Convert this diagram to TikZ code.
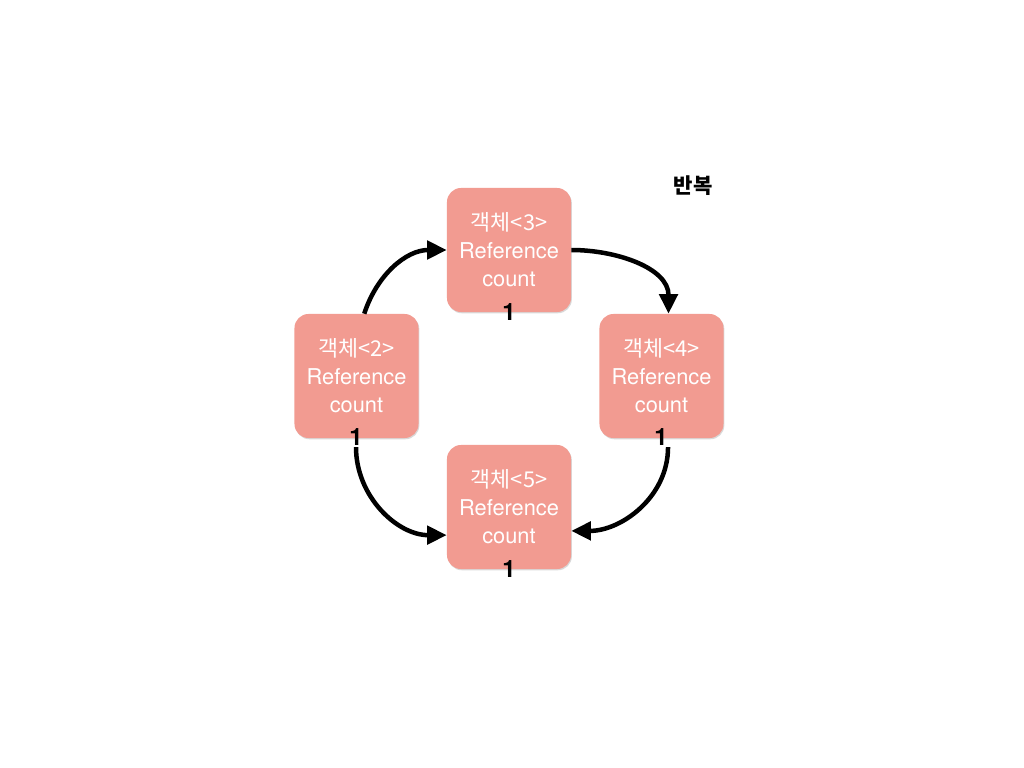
\documentclass[tikz,border=0pt]{standalone}
\usepackage{fontspec}
\setmainfont{TeX Gyre Heros}
\newfontfamily\kr{Noto Sans CJK KR}
\usetikzlibrary{arrows.meta,shadows}
\definecolor{boxred}{HTML}{F29B91}
\tikzset{
  obj/.style={fill=boxred,rounded corners=10pt,minimum width=3.1cm,minimum height=3.1cm,
    text=white,align=center,font=\fontsize{15.5}{20}\selectfont,
    drop shadow={opacity=0.3,shadow xshift=0.6pt,shadow yshift=-0.9pt}},
  cnt/.style={font=\fontsize{17}{18}\selectfont\bfseries,inner sep=1pt},
  link/.style={line width=3.2pt,-{Triangle[length=14pt,width=13pt]}}
}
\begin{document}
\begin{tikzpicture}[x=0.025cm,y=-0.025cm]
\useasboundingbox (0,0) rectangle (1024,768);
%\draw[step=50,gray,very thin] (0,0) grid (1024,768);
\node[obj] (b3) at (509,250) {{\kr 객체<3>}\\Reference\\count};
\node[obj] (b2) at (356.5,376) {{\kr 객체<2>}\\Reference\\count};
\node[obj] (b4) at (661.5,376) {{\kr 객체<4>}\\Reference\\count};
\node[obj] (b5) at (509,507) {{\kr 객체<5>}\\Reference\\count};
\node[cnt] (c3) at (509,312) {1};
\node[cnt] (c2) at (356,437) {1};
\node[cnt] (c4) at (661,437) {1};
\node[cnt] (c5) at (509,569) {1};
\node[font=\kr\fontsize{15}{18}\selectfont\bfseries] (loop) at (693,186) {반복};
\draw[link] ([xshift=5.5]b2.north) to[out=72,in=180] (b3.west);
\draw[link] (b3.east) to[out=0,in=90] ([xshift=5]b4.north);
\draw[link] ([xshift=5]c4.south) to[out=-90,in=0] ([yshift=-17]b5.east);
\draw[link] (c2.south) to[out=-90,in=180] ([yshift=-20]b5.west);
\end{tikzpicture}
\end{document}
